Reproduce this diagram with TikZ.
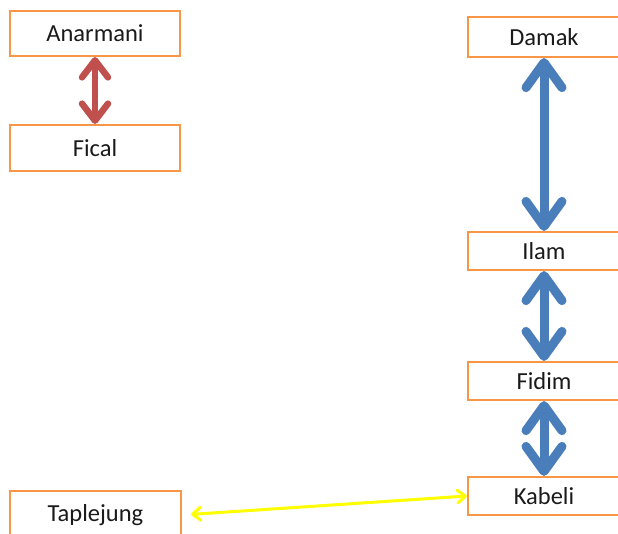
\documentclass[tikz,border=0pt]{standalone}
\usepackage{fontspec}
\setmainfont{Carlito}
\usetikzlibrary{arrows.meta}
\definecolor{boxorange}{HTML}{F79646}
\definecolor{arrred}{HTML}{C0504D}
\definecolor{arrblue}{HTML}{4A7EBB}
\definecolor{arryellow}{HTML}{FFFF00}
\definecolor{txt}{HTML}{1A1A1A}
\tikzset{
  place/.style={draw=boxorange, line width=2.2pt, fill=white, inner sep=0pt,
    text=txt, font=\fontsize{24.5}{28}\selectfont},
  redarr/.style={draw=arrred, line width=6.5pt,
    {Straight Barb[length=17pt,width=26pt,round]}-{Straight Barb[length=17pt,width=26pt,round]}},
  bluearr/.style={draw=arrblue, line width=9pt,
    {Straight Barb[length=25pt,width=36pt,round]}-{Straight Barb[length=25pt,width=36pt,round]}},
  yelarr/.style={draw=arryellow, line width=3pt,
    {Straight Barb[length=8pt,width=13pt,round]}-{Straight Barb[length=8pt,width=13pt,round]}}
}
\begin{document}
\begin{tikzpicture}[x=1pt,y=-1pt]
\useasboundingbox (0,0) rectangle (618,533);
\clip (0,0) rectangle (618,533);
\fill[white] (0,0) rectangle (618,533);
\node[place, minimum width=170pt, minimum height=45pt] (ana) at (95,33.5) {Anarmani};
\node[place, minimum width=170pt, minimum height=46pt] (fic) at (95,148) {Fical};
\node[place, minimum width=171pt, minimum height=48pt] (tap) at (95.5,515) {Taplejung};
\node[place, minimum width=152pt, minimum height=40pt] (dam) at (544,37) {Damak};
\node[place, minimum width=152pt, minimum height=38pt] (ila) at (544,251) {Ilam};
\node[place, minimum width=152pt, minimum height=38pt] (fid) at (544,381) {Fidim};
\node[place, minimum width=152pt, minimum height=38pt] (kab) at (544,496) {Kabeli};
\draw[redarr] (ana.south) -- (fic.north);
\draw[bluearr] (dam.south) -- (ila.north);
\draw[bluearr] (ila.south) -- (fid.north);
\draw[bluearr] (fid.south) -- (kab.north);
\draw[yelarr, shorten <=9pt] (tap.east) -- (kab.west);
\end{tikzpicture}
\end{document}
